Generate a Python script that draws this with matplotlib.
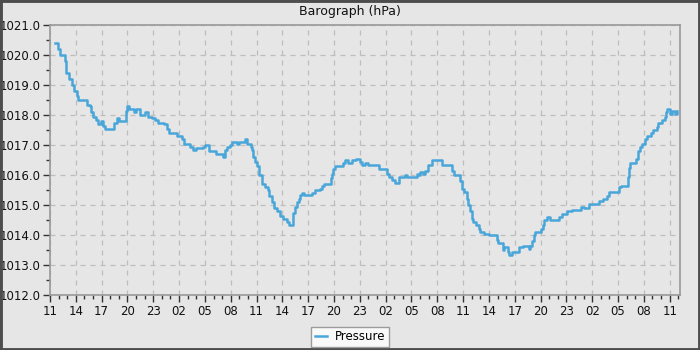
import matplotlib
matplotlib.use("Agg")
import matplotlib.pyplot as plt
from matplotlib.patches import Rectangle
from matplotlib.ticker import MultipleLocator, FixedLocator, FixedFormatter

# hours since 11:00 on the first day, and pressure (hPa)
hours = [0.6, 0.9, 1.2, 1.7, 1.9, 2.2, 2.5, 2.8, 3.1, 3.3, 4.3, 4.6, 4.8, 5.0,
         5.4, 5.6, 5.9, 6.2, 6.4, 7.4, 7.75, 8.0, 8.8, 9.0, 9.2, 9.8, 10.0,
         10.5, 11.0, 11.4, 11.9, 12.2, 12.6, 13.3, 13.6, 13.8, 14.8, 15.3,
         15.6, 16.3, 16.6, 17.0, 17.8, 18.0, 18.5, 19.3, 20.1, 20.3, 20.6,
         20.9, 21.2, 21.7, 22.0, 22.7, 22.9, 23.3, 23.5, 23.6, 23.8, 24.1,
         24.3, 24.6, 25.0, 25.3, 25.5, 25.8, 26.0, 26.4, 26.7, 27.1, 27.5,
         27.8, 28.2, 28.5, 28.7, 28.9, 29.1, 29.3, 29.5, 30.4, 30.8, 31.4,
         31.6, 31.8, 32.6, 32.8, 32.9, 33.1, 34.1, 34.3, 34.6, 35.1, 35.6,
         36.0, 36.2, 36.6, 37.0, 38.2, 39.1, 39.4, 39.7, 40.1, 40.5, 41.2,
         41.5, 42.6, 42.9, 43.0, 43.3, 43.6, 43.9, 44.4, 45.5, 46.7, 46.9,
         47.6, 47.9, 48.1, 48.4, 48.6, 48.8, 49.0, 49.2, 49.5, 49.8, 50.0,
         50.4, 51.0, 51.9, 52.1, 52.6, 52.8, 53.2, 53.3, 53.7, 54.5, 54.9,
         55.6, 55.8, 56.0, 56.2, 56.4, 57.0, 57.3, 57.4, 57.8, 58.1, 59.1,
         59.5, 60.1, 60.7, 61.7, 62.0, 62.6, 63.8, 64.3, 64.7, 65.0, 66.1,
         66.4, 67.2, 67.3, 67.4, 68.1, 68.3, 68.5, 68.8, 69.1, 69.4, 69.8,
         70.1, 70.5, 70.7, 71.1, 71.4, 71.6, 71.7, 72.0, 72.3, 72.6, 72.9]
pressure = [1020.4, 1020.2, 1020.0, 1019.8, 1019.4, 1019.2, 1019.0, 1018.8,
            1018.65, 1018.5, 1018.35, 1018.3, 1018.1, 1017.95, 1017.85,
            1017.7, 1017.8, 1017.65, 1017.55, 1017.75, 1017.9, 1017.8,
            1018.15, 1018.3, 1018.2, 1018.1, 1018.2, 1018.0, 1018.1, 1017.95,
            1017.9, 1017.85, 1017.75, 1017.7, 1017.55, 1017.4, 1017.3,
            1017.2, 1017.05, 1016.95, 1016.85, 1016.9, 1016.95, 1017.0,
            1016.8, 1016.7, 1016.6, 1016.85, 1016.95, 1017.0, 1017.1,
            1017.05, 1017.1, 1017.2, 1017.05, 1016.95, 1016.85, 1016.6,
            1016.45, 1016.3, 1016.0, 1015.7, 1015.6, 1015.5, 1015.3, 1015.1,
            1014.9, 1014.8, 1014.65, 1014.55, 1014.45, 1014.35, 1014.75,
            1014.95, 1015.1, 1015.2, 1015.35, 1015.4, 1015.35, 1015.4,
            1015.5, 1015.55, 1015.65, 1015.7, 1015.9, 1016.05, 1016.2,
            1016.3, 1016.4, 1016.5, 1016.4, 1016.5, 1016.55, 1016.45,
            1016.35, 1016.4, 1016.35, 1016.2, 1016.05, 1015.95, 1015.85,
            1015.75, 1015.95, 1016.0, 1015.95, 1016.05, 1016.0, 1016.1,
            1016.05, 1016.15, 1016.35, 1016.5, 1016.35, 1016.15, 1016.0,
            1015.8, 1015.55, 1015.45, 1015.2, 1015.0, 1014.8, 1014.55,
            1014.45, 1014.35, 1014.2, 1014.1, 1014.05, 1014.0, 1013.85,
            1013.75, 1013.5, 1013.6, 1013.45, 1013.35, 1013.45, 1013.6,
            1013.65, 1013.55, 1013.65, 1013.8, 1014.0, 1014.1, 1014.2,
            1014.35, 1014.5, 1014.6, 1014.5, 1014.6, 1014.7, 1014.8, 1014.85,
            1014.95, 1014.9, 1015.05, 1015.15, 1015.2, 1015.3, 1015.45,
            1015.6, 1015.65, 1015.95, 1016.25, 1016.4, 1016.55, 1016.8,
            1016.95, 1017.05, 1017.2, 1017.3, 1017.4, 1017.5, 1017.6,
            1017.75, 1017.85, 1017.95, 1018.1, 1018.2, 1018.05, 1018.15,
            1018.05, 1018.15]

tick_hours = list(range(0, 73, 3))
tick_labels = ["%02d" % ((11 + h) % 24) for h in tick_hours]

bg = "#e6e6e6"
fig = plt.figure(figsize=(7, 3.5), dpi=100, facecolor=bg)
ax = fig.add_axes([50 / 700, 55 / 350, 630 / 700, 270 / 350])
ax.set_facecolor(bg)

ax.plot(hours, pressure, drawstyle="steps-post", color="#48a6da",
        linewidth=1.8, label="Pressure")

ax.set_xlim(0, 73.2)
ax.set_ylim(1012, 1021)
ax.xaxis.set_major_locator(FixedLocator(tick_hours))
ax.xaxis.set_major_formatter(FixedFormatter(tick_labels))
ax.xaxis.set_minor_locator(MultipleLocator(1))
ax.yaxis.set_major_locator(MultipleLocator(1))
ax.yaxis.set_minor_locator(MultipleLocator(0.5))
ax.yaxis.set_major_formatter(plt.FormatStrFormatter("%.1f"))

ax.tick_params(which="major", length=5, width=1, color="#333333",
               labelsize=8.5, labelcolor="#111111", pad=2)
ax.tick_params(which="minor", length=3, width=1, color="#333333")
ax.grid(True, which="major", color="#bdbdbd", linestyle=(0, (4, 4)),
        linewidth=0.9)
ax.set_axisbelow(True)
for s in ax.spines.values():
    s.set_color("#999999")
    s.set_linewidth(1.2)

fig.text(0.5, 1 - 12 / 350, "Barograph (hPa)", ha="center", va="center",
         fontsize=9, color="#111111")

leg = fig.legend(loc="lower center", bbox_to_anchor=(0.5, 3 / 350),
                 borderaxespad=0, fontsize=8.5, frameon=True, fancybox=False,
                 handlelength=1.0, borderpad=0.3, handletextpad=0.7)
leg.get_frame().set_facecolor("white")
leg.get_frame().set_edgecolor("#888888")
leg.get_frame().set_linewidth(1)

# dark frame round the whole picture
fig.patches.append(Rectangle((0, 0), 1, 1, transform=fig.transFigure,
                             fill=False, edgecolor="#4d4d4d", linewidth=3.5))

fig.savefig("out.png", dpi=100, facecolor=bg)
